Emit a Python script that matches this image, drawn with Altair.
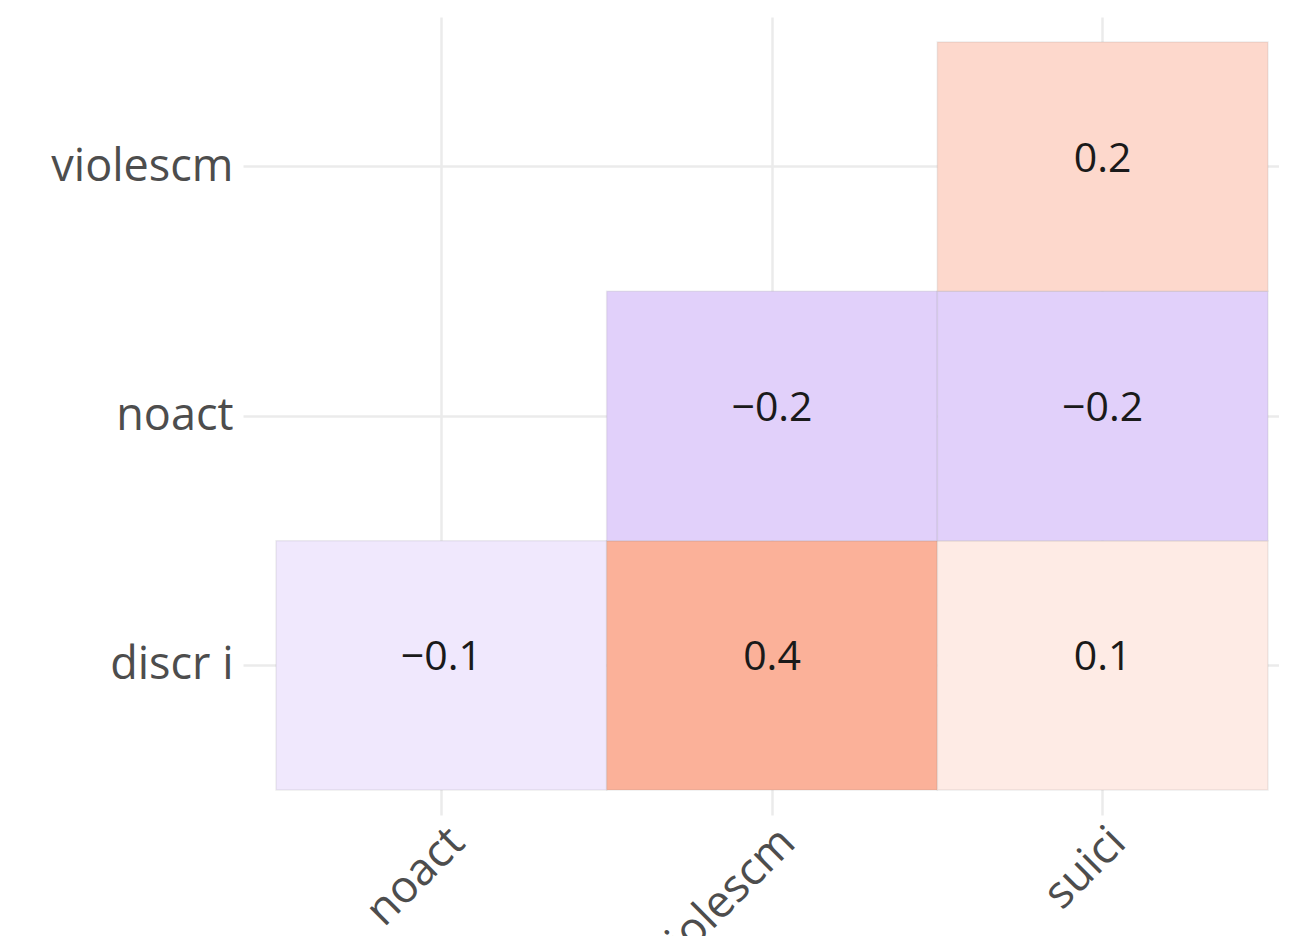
import altair as alt
import pandas as pd

# Categories
x_cats = ["noact", "violescm", "suici"]
y_cats = ["violescm", "noact", "discr i"]  # top to bottom

# Lower-triangle correlation cells
cell_x = ["noact", "violescm", "suici", "violescm", "suici", "suici"]
cell_y = ["discr i", "discr i", "discr i", "noact", "noact", "violescm"]
cell_r = [-0.1, 0.4, 0.1, -0.2, -0.2, 0.2]

df = pd.DataFrame({"x": cell_x, "y": cell_y, "r": cell_r})

FONT = "Open Sans"

xscale = alt.Scale(domain=x_cats, paddingInner=0, paddingOuter=0.1, range=[0, 1058])
yscale = alt.Scale(domain=y_cats, paddingInner=0, paddingOuter=0.1)

xenc = alt.X("x:N", scale=xscale, title=None,
             axis=alt.Axis(labelAngle=-45, labelAlign="right", labelBaseline="top",
                           labelPadding=4, grid=True, bandPosition=0.5, zindex=0))
yenc = alt.Y("y:N", scale=yscale, title=None,
             axis=alt.Axis(labelPadding=10, grid=True, bandPosition=0.5, zindex=0))

rects = alt.Chart(df).mark_rect(stroke="#777777", strokeOpacity=0.12, strokeWidth=1.5).encode(
    x=xenc,
    y=yenc,
    color=alt.Color("r:Q", legend=None,
                    scale=alt.Scale(domain=[-1, 0, 1],
                                    range=["#6a14e6", "#ffffff", "#f53c00"],
                                    interpolate="rgb")),
)

labels = alt.Chart(df).mark_text(font=FONT, fontSize=41, color="#1a1a1a", dy=-7).encode(
    x=alt.X("x:N", scale=xscale),
    y=alt.Y("y:N", scale=yscale),
    text=alt.Text("r:Q", format=".1f"),
)

chart = (rects + labels).properties(
    width=1036,
    height=798,
    autosize=alt.AutoSizeParams(type="none"),
    padding={"left": 235, "top": 9, "right": 0, "bottom": 121},
).configure_view(stroke=None).configure_axis(
    domain=False,
    ticks=False,
    gridColor="#ebebeb",
    gridWidth=2.5,
    labelFont=FONT,
    labelFontSize=45,
    labelColor="#4d4d4d",
    labelLimit=0,
    zindex=0,
)

chart.save("out.html", embed_options={"renderer": "svg", "actions": False})
